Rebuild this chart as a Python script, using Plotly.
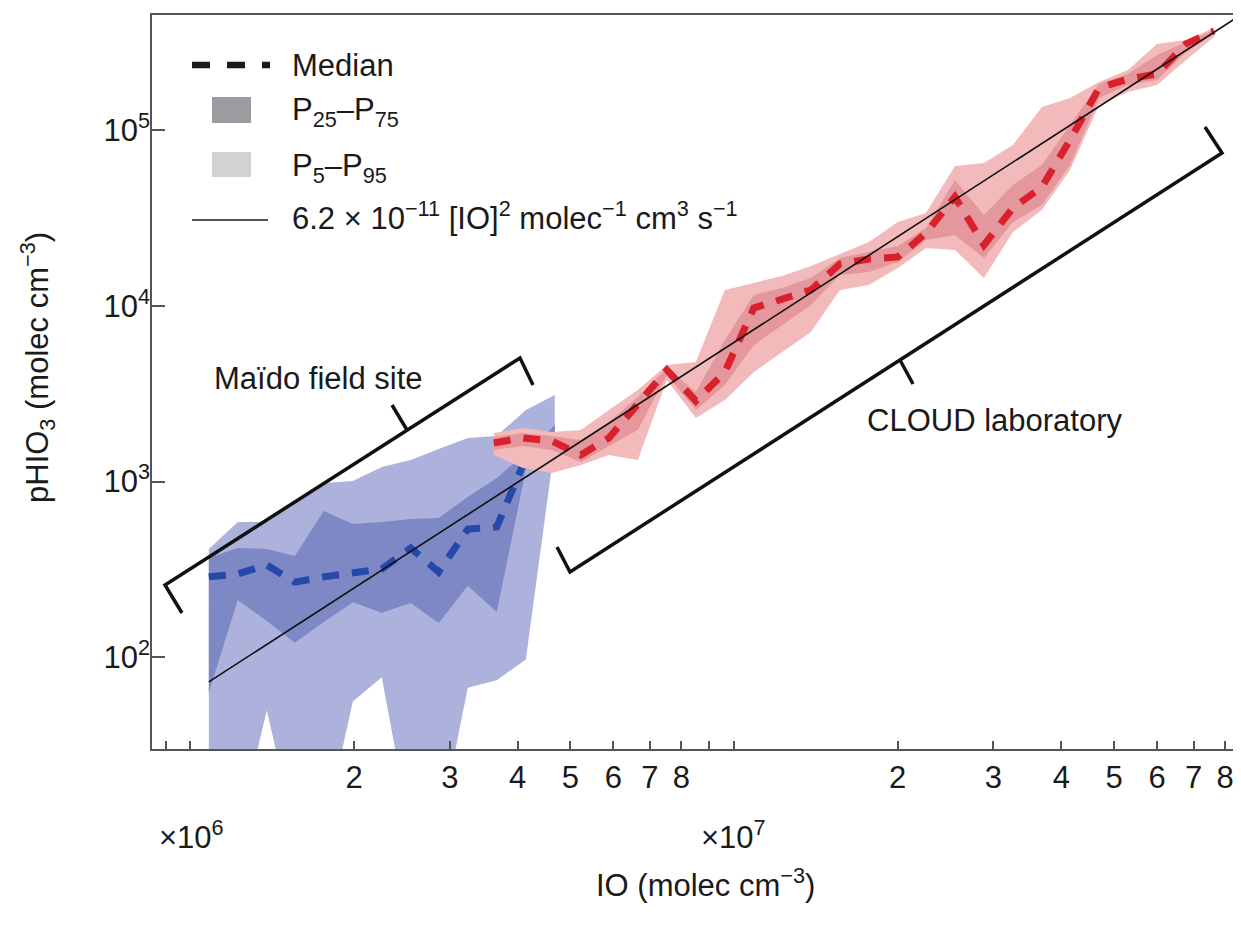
import plotly.graph_objects as go

# ---------------- data ----------------
# Maïdo field site (blue), IO in molec cm^-3, pHIO3 in molec cm^-3
io_maido = [1.081e6, 1.222e6, 1.382e6, 1.556e6, 1.759e6, 1.989e6, 2.249e6, 2.543e6,
            2.862e6, 3.237e6, 3.660e6, 4.139e6, 4.680e6]
maido_p5 = [10, 10, 50, 10, 10, 56, 77, 10, 10, 67, 74, 97, 1616]
maido_p25 = [63, 212, 161, 121, 159, 206, 179, 204, 157, 255, 181, 1165, 1726]
maido_med = [287, 298, 335, 268, 287, 302, 318, 419, 306, 537, 552, 1363, 1967]
maido_p75 = [367, 419, 414, 377, 680, 574, 589, 613, 621, 818, 1049, 1455, 2101]
maido_p95 = [414, 589, 589, 766, 982, 1008, 1211, 1328, 1534, 1772, 1819, 2557, 3114]

# CLOUD laboratory (red)
io_cloud = [3.614e6, 4.087e6, 4.621e6, 5.226e6, 5.884e6, 6.653e6, 7.522e6, 8.505e6,
            9.618e6, 1.0875e7, 1.2245e7, 1.3845e7, 1.5654e7, 1.770e7, 2.0013e7,
            2.2538e7, 2.5484e7, 2.8815e7, 3.258e7, 3.6838e7, 4.1487e7, 4.6909e7,
            5.3034e7, 5.9966e7, 6.7803e7, 7.6348e7]
cloud_p5 = [1418, 1196, 1120, 1243, 1418, 1328, 3788, 2302, 2915, 4207, 5470, 7109,
            12320, 13160, 16450, 21370, 20820, 14430, 26360, 35180, 59430, 139300,
            165200, 181100, 251300, 339700]
cloud_p25 = [1514, 1595, 1514, 1293, 1595, 1967, 4046, 2557, 3549, 5995, 7790, 10130,
             15010, 15610, 17800, 23740, 25340, 18750, 30060, 37550, 63450, 152700,
             181100, 193400, 279000, 353300]
cloud_med = [1660, 1772, 1703, 1418, 1772, 2803, 4319, 2877, 4207, 9736, 10810, 12320,
             17340, 18510, 19000, 26020, 41720, 22230, 36120, 47560, 88050, 174100,
             195900, 209200, 309900, 367500]
cloud_p75 = [1795, 1891, 1819, 1726, 2185, 3033, 4436, 3237, 6402, 11540, 12660, 14430,
             18750, 20290, 21950, 27780, 52120, 32950, 48820, 63450, 107200, 183400,
             209200, 268300, 318100, 372300]
cloud_p95 = [1891, 2020, 1917, 1967, 2557, 3323, 4613, 4797, 12320, 13510, 14810, 16880,
             19760, 23130, 30060, 33820, 62620, 65130, 82480, 135700, 152700, 188300,
             220400, 309900, 326600, 382200]

# fitted relation pHIO3 = k [IO]^2
fit_k = 6.2e-11
fit_io = [1.081e6, 9.0e7]

# axis ticks
x_tickvals = [2e6, 3e6, 4e6, 5e6, 6e6, 7e6, 8e6,
              2e7, 3e7, 4e7, 5e7, 6e7, 7e7, 8e7]
x_ticktext = ["2", "3", "4", "5", "6", "7", "8",
              "2", "3", "4", "5", "6", "7", "8"]
x_minor_tickvals = [9e5, 1e6, 9e6, 1e7]
y_tickvals = [1e2, 1e3, 1e4, 1e5]
y_ticktext = ["10<sup>2</sup>", "10<sup>3</sup>", "10<sup>4</sup>", "10<sup>5</sup>"]

# ---------------- styling ----------------
FONT = "Liberation Sans, Arial, Helvetica, sans-serif"
TXT = "#1a1a1a"
AX = "#555555"
FS = 31

BLUE_LIGHT = "#acb2dc"
BLUE_DARK = "#7e88c4"
BLUE_MED = "#2549a8"
RED_LIGHT = "#f2baba"
RED_DARK = "#e4979c"
RED_MED = "#d9202b"

# the page body has an 8 px margin; the figure is sized/placed so that the
# plot area lands on page pixels x 152..1240, y 15..749
OFF = 8
W, H = 1241 - OFF, 927 - OFF
PL, PT, PR, PB = 152, 15, 1240, 749          # plot area in page pixels
L, T = PL - OFF, PT - OFF
R, B = W - (PR - OFF), H - (PB - OFF)
PW, PH = PR - PL, PB - PT


def pp(px, py):
    """page pixel -> paper fraction (for annotations / decorations only)"""
    return (px - PL) / PW, (PB - py) / PH


def band(x, lo, hi, color):
    return go.Scatter(x=list(x) + list(x[::-1]), y=list(hi) + list(lo[::-1]),
                      mode="lines", fill="toself", fillcolor=color,
                      line=dict(width=0, color=color), hoverinfo="skip",
                      showlegend=False)


fig = go.Figure()
fig.add_trace(band(io_maido, maido_p5, maido_p95, BLUE_LIGHT))
fig.add_trace(band(io_maido, maido_p25, maido_p75, BLUE_DARK))
fig.add_trace(go.Scatter(x=io_maido, y=maido_med, mode="lines",
                         line=dict(color=BLUE_MED, width=7, dash="17px,13px"),
                         showlegend=False))
fig.add_trace(band(io_cloud, cloud_p5, cloud_p95, RED_LIGHT))
fig.add_trace(band(io_cloud, cloud_p25, cloud_p75, RED_DARK))
fig.add_trace(go.Scatter(x=io_cloud, y=cloud_med, mode="lines",
                         line=dict(color=RED_MED, width=7, dash="17px,13px"),
                         showlegend=False))
fig.add_trace(go.Scatter(x=fit_io, y=[fit_k * v ** 2 for v in fit_io], mode="lines",
                         line=dict(color="#111111", width=1.6), showlegend=False))

shapes = []
annotations = []


def path(points):
    s = ""
    for i, (px, py) in enumerate(points):
        x, y = pp(px, py)
        s += ("M" if i == 0 else " L") + f" {x:.5f},{y:.5f}"
    return s


def add_path(points, width, color="#111111", dash="solid"):
    shapes.append(dict(type="path", xref="paper", yref="paper", path=path(points),
                       line=dict(color=color, width=width, dash=dash)))


# brackets
add_path([(182, 613), (165, 585), (520, 358), (533, 385)], 3.5)
add_path([(407, 430), (392, 405)], 3.5)
add_path([(557, 547), (570, 572), (1222, 153), (1205, 127)], 3.5)
add_path([(900, 360), (913, 384)], 3.5)

# legend (manual)
add_path([(192, 65), (270, 65)], 6.5, TXT, "18px,17px")
for (x0, y0, x1, y1, c) in [(212, 97, 251, 123, "#9c9ca0"), (212, 152, 251, 177, "#d2d2d4")]:
    a0, b0 = pp(x0, y1)
    a1, b1 = pp(x1, y0)
    shapes.append(dict(type="rect", xref="paper", yref="paper", x0=a0, y0=b0, x1=a1, y1=b1,
                       fillcolor=c, line=dict(width=0)))
add_path([(192, 220), (268, 220)], 1.6, TXT)


def text(px, py, s, anchor="left", size=FS, angle=0):
    x, y = pp(px, py)
    annotations.append(dict(xref="paper", yref="paper", x=x, y=y, text=s, showarrow=False,
                            xanchor=anchor, yanchor="middle", textangle=angle,
                            font=dict(family=FONT, size=size, color=TXT)))


text(290, 65, "Median")
text(290, 112, "P<sub>25</sub>–P<sub>75</sub>")
text(290, 168, "P<sub>5</sub>–P<sub>95</sub>")
text(290, 216, "6.2 × 10<sup>−11</sup> [IO]<sup>2</sup> molec<sup>−1</sup> cm<sup>3</sup> s<sup>−1</sup>")
text(212, 378, "Maïdo field site")
text(865, 420, "CLOUD laboratory")
text(191, 835, "×10<sup>6</sup>", "center")
text(733, 835, "×10<sup>7</sup>", "center")
text(705, 883, "IO (molec cm<sup>−3</sup>)", "center")
text(37, 368, "pHIO<sub>3</sub> (molec cm<sup>−3</sup>)", "center", angle=-90)

fig.update_layout(
    width=W, height=H,
    margin=dict(l=L, r=R, t=T, b=B, pad=0, autoexpand=False),
    paper_bgcolor="white", plot_bgcolor="white",
    font=dict(family=FONT, size=FS, color=TXT),
    showlegend=False,
    shapes=shapes, annotations=annotations,
    xaxis=dict(type="log", range=[5.9293, 7.9306], tickvals=x_tickvals, ticktext=x_ticktext,
               ticks="inside", ticklen=8, tickwidth=1.5, tickcolor=AX,
               minor=dict(tickvals=x_minor_tickvals, ticks="inside", ticklen=8,
                          tickwidth=1.5, tickcolor=AX, showgrid=False),
               showline=True, linecolor=AX, linewidth=1.5, mirror=True, automargin=False,
               showgrid=False, zeroline=False, ticklabelstandoff=0,
               tickfont=dict(family=FONT, size=FS, color=TXT)),
    yaxis=dict(type="log", range=[1.478, 5.656], tickvals=y_tickvals, ticktext=y_ticktext,
               ticks="inside", ticklen=13, tickwidth=1.5, tickcolor=AX,
               showline=True, linecolor=AX, linewidth=1.5, mirror=True, automargin=False,
               showgrid=False, zeroline=False, ticklabelstandoff=-6,
               tickfont=dict(family=FONT, size=FS, color=TXT)),
)

fig.write_html("out.html")
